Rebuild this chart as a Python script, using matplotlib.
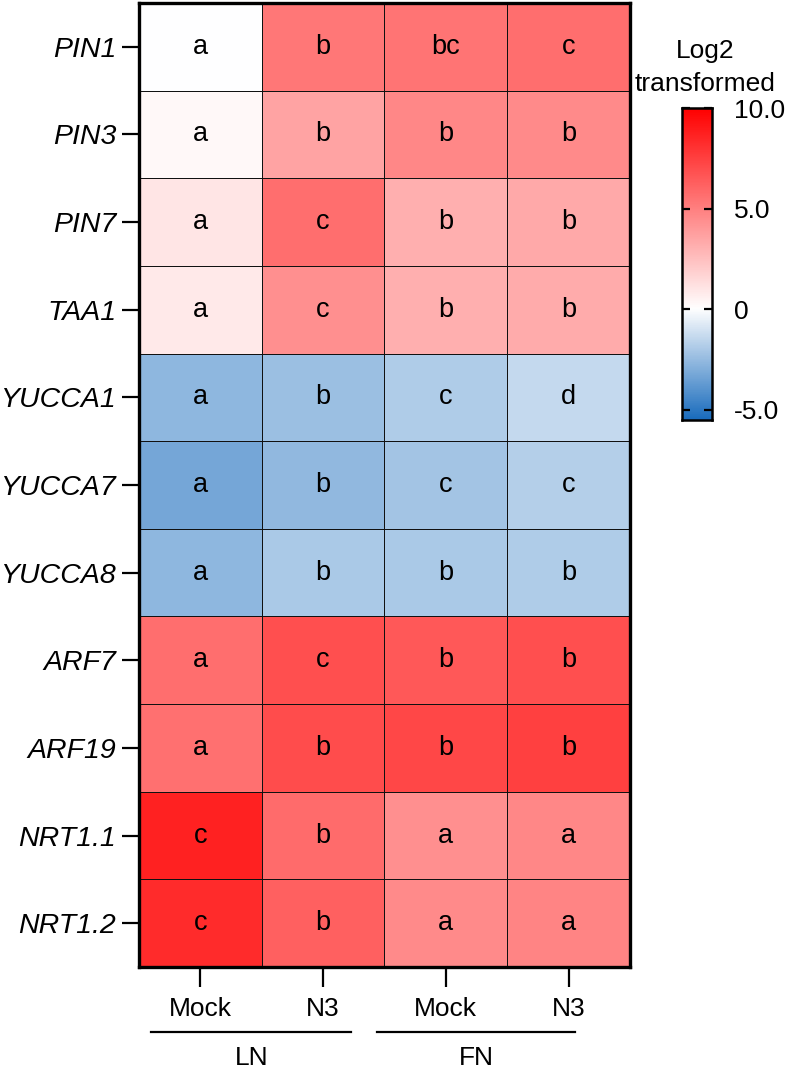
import matplotlib.pyplot as plt
import numpy as np
from matplotlib.colors import LinearSegmentedColormap, Normalize
from matplotlib.lines import Line2D

plt.rcParams["font.family"] = ["Liberation Sans", "DejaVu Sans"]

genes = ["PIN1", "PIN3", "PIN7", "TAA1", "YUCCA1", "YUCCA7", "YUCCA8",
         "ARF7", "ARF19", "NRT1.1", "NRT1.2"]
treatments = ["Mock", "N3", "Mock", "N3"]
groups = ["LN", "FN"]

# log2 values, columns: LN Mock, LN N3, FN Mock, FN N3
pin1 = [0.0, 5.3, 5.4, 5.7]
pin3 = [0.3, 3.6, 4.7, 4.6]
pin7 = [1.0, 5.7, 3.1, 3.4]
taa1 = [0.9, 4.4, 3.1, 3.3]
yucca1 = [-2.7, -2.4, -1.9, -1.4]
yucca7 = [-3.3, -2.6, -2.2, -1.8]
yucca8 = [-2.7, -2.0, -2.0, -1.9]
arf7 = [5.7, 6.9, 6.5, 6.9]
arf19 = [5.6, 7.0, 7.2, 7.5]
nrt11 = [8.7, 5.8, 4.4, 4.7]
nrt12 = [8.3, 6.2, 4.6, 4.8]

letters = [
    ["a", "b", "bc", "c"],
    ["a", "b", "b", "b"],
    ["a", "c", "b", "b"],
    ["a", "c", "b", "b"],
    ["a", "b", "c", "d"],
    ["a", "b", "c", "c"],
    ["a", "b", "b", "b"],
    ["a", "c", "b", "b"],
    ["a", "b", "b", "b"],
    ["c", "b", "a", "a"],
    ["c", "b", "a", "a"],
]

VMIN, VMAX = -5.5, 10.0
cbar_ticks = [-5.0, 0, 5.0, 10.0]
cbar_labels = ["-5.0", "0", "5.0", "10.0"]

values = np.array([pin1, pin3, pin7, taa1, yucca1, yucca7, yucca8,
                   arf7, arf19, nrt11, nrt12])

mid = (0 - VMIN) / (VMAX - VMIN)
cmap = LinearSegmentedColormap.from_list(
    "bwr_prism", [(0.0, "#1a6cbd"), (mid, "#ffffff"), (1.0, "#ff0000")])
norm = Normalize(VMIN, VMAX)

FS = 19
W, H = 787, 1068
fig = plt.figure(figsize=(W / 100, H / 100), dpi=100)
ax = fig.add_axes([139 / W, 1 - 967 / H, 491 / W, 964 / H])

nrow, ncol = values.shape
ax.pcolormesh(np.arange(ncol + 1), np.arange(nrow + 1), values, cmap=cmap,
              norm=norm, edgecolors="#111111", linewidth=0.6)
ax.set_xlim(0, ncol)
ax.set_ylim(nrow, 0)

for i in range(nrow):
    for j in range(ncol):
        ax.text(j + 0.5, i + 0.5, letters[i][j], ha="center", va="center",
                fontsize=FS + 0.5, color="black")

ax.set_yticks(np.arange(nrow) + 0.5)
ax.set_yticklabels(genes, fontsize=20.5, style="italic")
ax.set_xticks(np.arange(ncol) + 0.5)
ax.set_xticklabels(treatments, fontsize=FS)
ax.tick_params(axis="y", length=12.5, width=1.6, pad=4)
ax.tick_params(axis="x", length=14.5, width=1.6, pad=7)
for s in ax.spines.values():
    s.set_linewidth(2.4)

# group bars below the treatment labels
group_spans = [(0.10, 1.73), (1.94, 3.55)]
trans = ax.get_xaxis_transform()
for name, (x0, x1) in zip(groups, group_spans):
    ax.add_line(Line2D([x0, x1], [-0.0674, -0.0674], transform=trans,
                       color="black", lw=1.6, clip_on=False))
    ax.text((x0 + x1) / 2, -0.094, name, transform=trans, ha="center",
            va="center", fontsize=FS)

# colour bar
cax = fig.add_axes([682 / W, 1 - 420 / H, 30 / W, 312 / H])
grad = np.linspace(VMIN, VMAX, 400).reshape(-1, 1)
cax.imshow(grad, aspect="auto", origin="lower", cmap=cmap, norm=norm,
           extent=(0, 1, VMIN, VMAX))
cax.set_xticks([])
cax.set_yticks(cbar_ticks)
cax.set_yticklabels(cbar_labels, fontsize=FS)
cax.yaxis.tick_right()
cax.tick_params(axis="y", direction="in", left=True, right=True,
                length=6, width=1.6, pad=16)
for s in cax.spines.values():
    s.set_linewidth(1.8)

fig.text(705 / W, 1 - 51 / H, "Log2", ha="center", va="center", fontsize=FS)
fig.text(705 / W, 1 - 84 / H, "transformed", ha="center", va="center",
         fontsize=FS)

fig.savefig("out.png", dpi=100)
